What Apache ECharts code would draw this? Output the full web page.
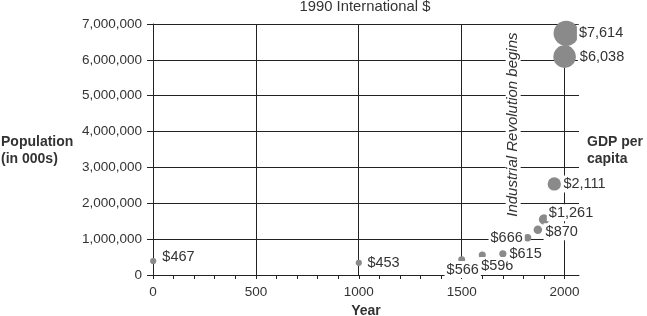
<!DOCTYPE html>
<html><head><meta charset="utf-8">
<script src="https://cdn.jsdelivr.net/npm/echarts@6/dist/echarts.min.js"></script>
<style>html,body{margin:0;padding:0;background:#fff}#c{width:647px;height:316px}*{cursor:none !important}</style>
</head><body><div id="c"></div>
<script>
// ---- data ----
const years = [1, 1000, 1500, 1600, 1700, 1820, 1870, 1900, 1950, 2000, 2008];
const population = [390000, 340000, 430000, 560000, 590000, 1040000, 1260000, 1550000, 2540000, 6090000, 6740000]; // thousands
const gdpPerCapita = [467, 453, 566, 596, 615, 666, 870, 1261, 2111, 6038, 7614];
const xTickLabels = [0, 500, 1000, 1500, 2000];
const xMinorTicks = [0, 100, 200, 300, 400, 500, 600, 700, 800, 900, 1000, 1100, 1200, 1300, 1400, 1500, 1600, 1700, 1800, 1900, 2000];
const yTickLabels = ['0', '1,000,000', '2,000,000', '3,000,000', '4,000,000', '5,000,000', '6,000,000', '7,000,000'];
const annotationText = 'Industrial Revolution begins';
const annotationAt = [1750, 4110000];

// ---- label placement (style only) ----
const labelPlacement = [
  {position: 'right', distance: 4, offset: [0, -4]},
  {position: 'right', distance: 3.5},
  {position: 'inside', offset: [1, 10]},
  {position: 'inside', offset: [15, 10.7]},
  {position: 'right', distance: 1},
  {position: 'left', distance: -1},
  {position: 'right', distance: 1.5, offset: [0, 2]},
  {position: 'inside', offset: [27, -6.6]},
  {position: 'right', distance: 0.5},
  {position: 'right', distance: 2},
  {position: 'right', distance: -2}
];

const FONT = '"Liberation Sans", Arial, Helvetica, sans-serif';
const TXT = '#333';
const LINE = '#222';

const seriesData = years.map((y, i) => ({
  value: [y, population[i], gdpPerCapita[i]],
  label: labelPlacement[i]
}));

const chart = echarts.init(document.getElementById('c'), null, {renderer: 'canvas'});
chart.setOption({
  animation: false,
  textStyle: {fontFamily: FONT},
  grid: [
    {left: 153, right: 68, top: 24, bottom: 41, containLabel: false, outerBoundsMode: 'none'},
    {left: 153, right: 83, top: 24, bottom: 41, containLabel: false, outerBoundsMode: 'none'}
  ],
  xAxis: [
    {
      type: 'value', gridIndex: 0, min: 0, max: 2070,
      name: 'Year', nameLocation: 'middle', nameGap: 28,
      nameTextStyle: {fontWeight: 'bold', fontSize: 14, color: TXT, fontFamily: FONT},
      axisLine: {show: true, lineStyle: {color: LINE, width: 1}},
      axisTick: {show: true, length: 4, customValues: xMinorTicks, lineStyle: {color: LINE, width: 1}},
      axisLabel: {
        customValues: xTickLabels, fontSize: 13.5, color: TXT, margin: 10, fontFamily: FONT,
        formatter: v => String(v)
      },
      splitLine: {show: false}
    },
    {
      type: 'value', gridIndex: 1, min: 0, max: 2000, interval: 500,
      axisLine: {show: false},
      axisTick: {show: false},
      axisLabel: {show: false},
      splitLine: {show: true, lineStyle: {color: LINE, width: 1}}
    }
  ],
  yAxis: [
    {
      type: 'value', gridIndex: 0, min: 0, max: 7000000, interval: 1000000,
      axisLine: {show: true, lineStyle: {color: LINE, width: 1}},
      axisTick: {show: true, length: 6, lineStyle: {color: LINE, width: 1}},
      axisLabel: {
        fontSize: 13.5, color: TXT, margin: 11, fontFamily: FONT,
        formatter: v => yTickLabels[Math.round(v / 1000000)]
      },
      splitLine: {show: true, lineStyle: {color: LINE, width: 1}}
    },
    {type: 'value', gridIndex: 1, min: 0, max: 1, show: false}
  ],
  series: [{
    type: 'scatter',
    xAxisIndex: 0, yAxisIndex: 0,
    clip: false,
    data: seriesData,
    symbol: 'circle',
    symbolSize: v => 0.29 * Math.sqrt(v[2]),
    itemStyle: {color: '#8a8a8a', opacity: 1},
    label: {
      show: true, fontSize: 14.5, color: TXT, fontFamily: FONT,
      backgroundColor: '#fff', padding: [1, 2],
      formatter: p => '$' + p.value[2].toLocaleString('en-US')
    },
    emphasis: {disabled: true},
    markPoint: {
      silent: true,
      symbol: 'circle', symbolSize: 0,
      data: [{coord: annotationAt, value: 0}],
      label: {
        show: true, position: 'inside', rotate: 90,
        formatter: annotationText,
        fontStyle: 'italic', fontSize: 15, color: TXT, fontFamily: FONT,
        backgroundColor: '#fff', padding: [0, 2, 0, 8]
      }
    }
  }],
  graphic: [
    {type: 'text', x: 365, y: 7, style: {text: '1990 International $', font: '14.8px ' + FONT, fill: TXT, textAlign: 'center', textVerticalAlign: 'middle'}},
    {type: 'text', x: 1, y: 133, style: {text: 'Population\n(in 000s)', font: 'bold 14px ' + FONT, lineHeight: 17.5, fill: TXT, textAlign: 'left', textVerticalAlign: 'top'}},
    {type: 'text', x: 587, y: 133, style: {text: 'GDP per\ncapita', font: 'bold 14px ' + FONT, lineHeight: 17.5, fill: TXT, textAlign: 'left', textVerticalAlign: 'top'}}
  ]
});
</script>
</body></html>
